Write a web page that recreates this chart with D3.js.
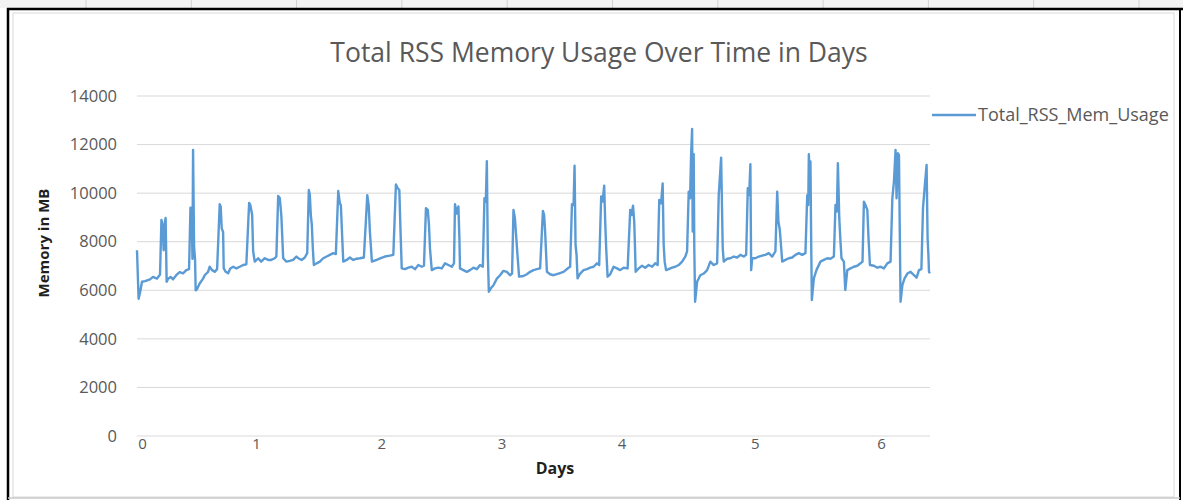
<!DOCTYPE html>
<html>
<head>
<meta charset="utf-8">
<script src="https://cdn.jsdelivr.net/npm/d3@7"></script>
<style>
  html, body { margin: 0; padding: 0; background: #ffffff; }
  svg { display: block; }
</style>
</head>
<body>
<svg id="chart" width="1183" height="500"></svg>
<script>
// ---------------- DATA ----------------
const chartTitle = "Total RSS Memory Usage Over Time in Days";
const seriesName = "Total_RSS_Mem_Usage";
const xAxisTitle = "Days";
const yAxisTitle = "Memory in MB";

// day labels and the sample index at which each label sits (category axis)
const dayLabels = ["0", "1", "2", "3", "4", "5", "6"];
const dayTickIndex = [2.5, 59.5, 122, 182, 242, 308.5, 371.5];
const sampleCount = 396;

const yTicks = [0, 2000, 4000, 6000, 8000, 10000, 12000, 14000];

// [sample index, total RSS memory in MB]
const rssSeries = [
  [0,7650],[0.8,5650],[1.5,5900],[2.5,6350],[4,6380],[6.5,6450],[8,6550],[10,6480],[11.5,6650],
  [12.2,8900],[12.8,8700],[13.3,7650],[14,8850],[14.3,8980],[14.8,6350],
  [15.6,6480],[16.8,6550],[18,6450],[19.6,6620],[21.3,6750],[23,6700],[24.6,6830],[26,6870],
  [26.7,9400],[27.3,9380],[27.7,7300],[28,11780],[28.5,7800],[29,7250],[29.3,6000],[30,6050],
  [31.3,6280],[33,6480],[33.8,6620],[35.5,6760],[36.3,6970],[37.5,6830],[38.8,6760],[40,6870],
  [41.3,9540],[41.8,9450],[42.3,8550],[43,8400],[43.3,6900],[44.3,6760],[45.5,6700],[46.6,6900],
  [48,6970],[49.6,6900],[51.3,6970],[53,7040],[54.6,7070],
  [56,9600],[56.6,9510],[57.5,9100],[58,7600],[58.8,7180],[60.5,7320],[62,7180],[63.8,7320],
  [65.5,7250],[67,7250],[68.8,7320],[69.6,7390],
  [70.5,9880],[71.3,9800],[72.1,9050],[73,7320],[74.6,7180],[76.3,7210],[78,7250],[79.6,7390],
  [80.5,7320],[82.2,7250],[83.8,7350],[85,7530],
  [85.8,10130],[86.3,9930],[86.8,9100],[87.3,8690],[87.8,7730],[88.3,7040],[89.7,7110],[91.3,7180],
  [93,7320],[94.7,7390],[96.3,7460],[98,7530],[99.3,7490],
  [100.5,10090],[101.3,9580],[101.8,9510],[102.5,8140],[103,7180],[104.7,7250],[106.3,7350],
  [108,7250],[109.7,7300],[111.3,7320],[113.3,7350],
  [115,9920],[115.7,9510],[116.3,8420],[117.3,7180],[119.7,7250],[121.7,7320],[123.8,7390],
  [126.3,7430],[128,7460],
  [129.3,10360],[130.2,10200],[131,10130],[131.5,8690],[132.2,6900],[133.8,6870],[135.5,6930],
  [137.2,6970],[138.8,6870],[140.5,7040],[142.2,6970],[143.3,7010],
  [144.3,9380],[145.2,9310],[145.8,8690],[146.3,7730],[147.2,6830],[148.8,6900],[150.5,6930],
  [152.2,6900],[153.8,7110],[155.5,7040],[157.2,6970],[158.3,7110],
  [158.8,9540],[159.7,9160],[160.5,9450],[161,8140],[161.3,6900],[163,6830],[164.7,6760],
  [166.3,6830],[168,6930],[169.7,6870],[171.3,7040],[172.7,6970],
  [173.5,9790],[174.2,9650],[174.7,11320],[175.2,7460],[175.7,5940],[176.7,6080],[178,6210],
  [179.7,6480],[181.3,6620],[183,6800],[184.7,6760],[186.3,6620],[187.3,6690],
  [188,9310],[188.7,8970],[189.3,8280],[190,7460],[190.8,6560],[193,6590],[194.7,6660],
  [196.3,6760],[198,6830],[199.7,6870],[201.3,6900],
  [202.7,9270],[203.3,9100],[203.8,8420],[204.7,6760],[206.3,6660],[208,6620],[210.5,6690],
  [213,6760],[215.5,6930],[216.3,6970],
  [217.2,9540],[218,9510],[218.5,11130],[219,7870],[219.5,7460],[220,6490],[221.3,6690],
  [223,6830],[224.7,6870],[226.3,6930],[228,6970],[229.7,7110],[230.8,7040],
  [231.8,9860],[232.5,9650],[233.3,10310],[233.8,8830],[234.3,7730],[235,6560],[236.3,6660],
  [238,6970],[239.7,6900],[241.3,6830],[243,6930],[245,6900],
  [246.3,9310],[247,9100],[247.7,9480],[248.3,8830],[248.7,7730],[249,6760],[250.5,6900],
  [252.2,7010],[253.8,6930],[255.5,7040],[257.2,6970],[258.8,7110],[260,7040],
  [260.8,9720],[261.7,9580],[262.5,10400],[263,7870],[263.5,7180],[264.2,6830],[265.5,6870],
  [267.2,6930],[268.8,6970],[270.5,7040],[272.2,7180],[273.8,7390],[274.7,7600],
  [275.5,10060],[276.2,9790],[276.7,11570],[277.2,12640],[277.5,8420],[278,11600],[278.3,7730],
  [278.7,5530],[279.7,6350],[281.3,6620],[283,6690],[284.7,6830],[286.3,7180],[288,7040],[289.7,7110],
  [290.5,9920],[291.7,11460],[292.2,9100],[292.5,7730],[293,7180],[294.7,7300],[296.3,7320],
  [298,7390],[299.7,7350],[301.3,7460],[303,7390],[304.2,7460],
  [305,10200],[305.7,9920],[306.3,11190],[306.7,6830],[307.2,7320],[308.8,7320],[310.5,7390],
  [312.2,7430],[313.8,7460],[315.5,7530],[317.2,7390],[318.8,7600],
  [319.7,10060],[320.3,8830],[321,8490],[321.7,7730],[322.2,7180],[323.8,7250],[325.5,7320],
  [327.2,7350],[328.8,7460],[330.5,7530],[332.2,7460],[333.8,7530],
  [334.7,9920],[335.2,9510],[335.5,11600],[336,10470],[336.3,11300],[336.7,7730],[337,5600],
  [338,6490],[339.3,6830],[341.3,7180],[343,7250],[344.7,7320],[346.3,7300],[348,7390],
  [348.8,9510],[349.5,9240],[350,11230],[350.7,8970],[351.3,8000],[351.8,7320],[353,7180],
  [353.7,6010],[354.7,6830],[356.3,6900],[358,6970],[359.7,7010],[361.3,7110],[362.3,7180],
  [363,9650],[363.8,9510],[364.7,9310],[365.3,8140],[366,7040],[368,7010],[369.7,6930],
  [371.3,6970],[373,6900],[374.7,7110],[376.3,7180],
  [377.2,9790],[378,10470],[378.8,11780],[379.3,9790],[380,11640],[380.5,11570],[381,7730],
  [381.3,5530],[382.2,6210],[383.3,6490],[384.7,6690],[386.3,6760],[388,6620],[389.3,6520],
  [390.5,6830],[391.7,6870],
  [392.5,9380],[393.3,10200],[394.3,11160],[394.8,8140],[395.2,7460],[395.5,6760],[396,6700]
];

// ---------------- DRAWING ----------------
const svg = d3.select("#chart");
const W = 1183, H = 500;
const plot = { left: 137, right: 930, top: 96, bottom: 436 };
const lineColor = "#5B9BD5";
const gridColor = "#D9D9D9";
const textGrey = "#595959";
const font = "'Open Sans', 'Liberation Sans', sans-serif";

// spreadsheet strip + frame
svg.append("rect").attr("x", 0).attr("y", 0).attr("width", W).attr("height", H).attr("fill", "#ffffff");
svg.append("rect").attr("x", 0).attr("y", 0).attr("width", W).attr("height", 8).attr("fill", "#f3f3f3");
const colSeps = d3.range(86, W, 105.3);
svg.selectAll("line.colsep").data(colSeps).join("line")
  .attr("x1", d => d).attr("x2", d => d).attr("y1", 0).attr("y2", 8)
  .attr("stroke", "#d0d0d0").attr("stroke-width", 1);
svg.append("rect").attr("x", 13).attr("y", 13).attr("width", 1161).attr("height", 484)
  .attr("fill", "none").attr("stroke", "#d9d9d9").attr("stroke-width", 1);
svg.append("line").attr("x1", 7).attr("x2", W).attr("y1", 9).attr("y2", 9)
  .attr("stroke", "#000").attr("stroke-width", 2.5);
svg.append("line").attr("x1", 8).attr("x2", 8).attr("y1", 8).attr("y2", H)
  .attr("stroke", "#000").attr("stroke-width", 2.5);
svg.append("line").attr("x1", 1180).attr("x2", 1180).attr("y1", 8).attr("y2", H)
  .attr("stroke", "#000").attr("stroke-width", 2);
svg.append("line").attr("x1", 8).attr("x2", 1180).attr("y1", 498).attr("y2", 498)
  .attr("stroke", "#c8c8c8").attr("stroke-width", 1.5);

const x = d3.scaleLinear().domain([0, sampleCount]).range([plot.left, plot.right]);
const y = d3.scaleLinear().domain([0, 14000]).range([plot.bottom, plot.top]);

// gridlines
svg.append("g").selectAll("line").data(yTicks).join("line")
  .attr("x1", plot.left).attr("x2", plot.right)
  .attr("y1", d => y(d)).attr("y2", d => y(d))
  .attr("stroke", gridColor).attr("stroke-width", 1);

// y axis labels
const yAxis = d3.axisLeft(y).tickValues(yTicks).tickSize(0).tickPadding(0).tickFormat(d3.format("d"));
const gy = svg.append("g").attr("transform", `translate(117,0)`).call(yAxis);
gy.select(".domain").remove();
gy.selectAll("text").attr("fill", textGrey).style("font-family", font).style("font-size", "16.5px");

// x axis labels
const xAxis = d3.axisBottom(x).tickValues(dayTickIndex).tickSize(0).tickPadding(0)
  .tickFormat((d, i) => dayLabels[i]);
const gx = svg.append("g").attr("transform", `translate(0,${plot.bottom + 2})`).call(xAxis);
gx.select(".domain").remove();
gx.selectAll("text").attr("fill", textGrey).style("font-family", font).style("font-size", "15px");

// line
const line = d3.line().x(d => x(d[0])).y(d => y(d[1]));
svg.append("path").datum(rssSeries).attr("d", line)
  .attr("fill", "none").attr("stroke", lineColor).attr("stroke-width", 2.4)
  .attr("stroke-linejoin", "round");

// title
svg.append("text").attr("x", 599).attr("y", 62).attr("text-anchor", "middle")
  .attr("fill", textGrey).style("font-family", font).style("font-size", "26.5px")
  .text(chartTitle);

// axis titles
svg.append("text").attr("x", 555).attr("y", 474).attr("text-anchor", "middle")
  .attr("fill", "#1f1f1f").style("font-family", font).style("font-size", "16px").style("font-weight", "bold")
  .text(xAxisTitle);
svg.append("text").attr("transform", "translate(49,243) rotate(-90)").attr("text-anchor", "middle")
  .attr("fill", "#1f1f1f").style("font-family", font).style("font-size", "15px").style("font-weight", "bold")
  .text(yAxisTitle);

// legend
const legend = svg.append("g").attr("transform", "translate(932,115)");
legend.append("line").attr("x1", 0).attr("x2", 44).attr("y1", 0).attr("y2", 0)
  .attr("stroke", lineColor).attr("stroke-width", 2.4);
legend.append("text").attr("x", 46).attr("y", 6).attr("fill", textGrey)
  .style("font-family", font).style("font-size", "18px").text(seriesName);
</script>
</body>
</html>
